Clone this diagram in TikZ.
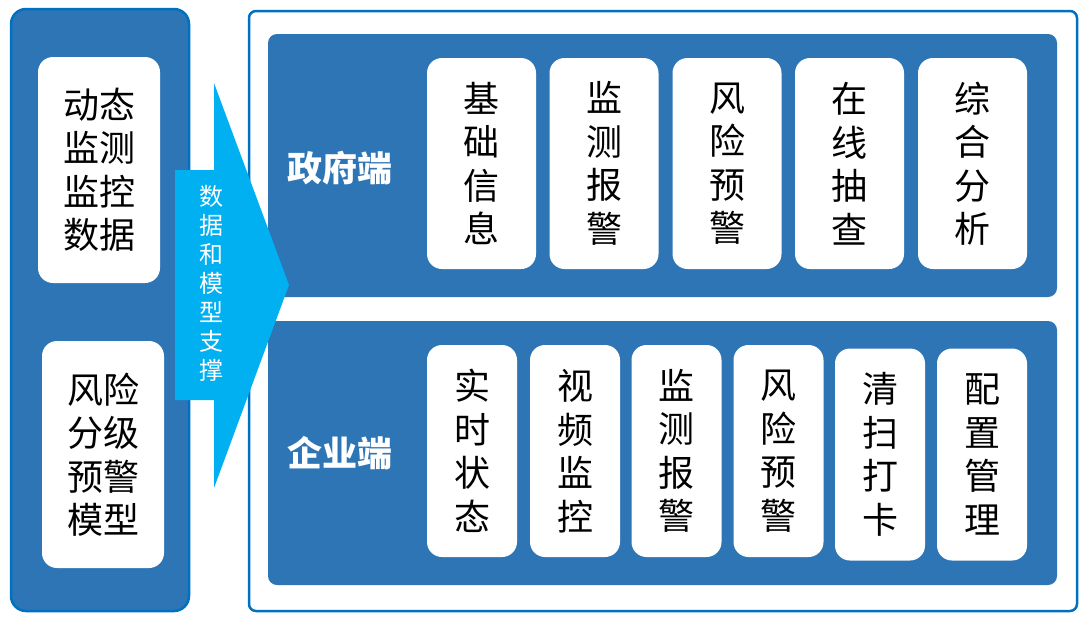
\documentclass[tikz,border=0pt]{standalone}
\usepackage{fontspec}
\newfontfamily\cjk{Noto Sans CJK SC}
\definecolor{vlakblauw}{HTML}{2E75B6}
\definecolor{randblauw}{HTML}{0070C0}
\definecolor{pijlblauw}{HTML}{00B0F0}
\tikzset{
  kaart/.style={fill=white, rounded corners=15pt, inner sep=0pt, align=center, font=\cjk\fontsize{36}{43.5}\selectfont},
  smal/.style={kaart, minimum width=90pt, minimum height=212pt},
  breed/.style={kaart, minimum width=109pt, minimum height=211pt},
  kop/.style={text=white, font=\cjk\bfseries\fontsize{35}{40}\selectfont},
}

\begin{document}
\begin{tikzpicture}[x=1pt,y=-1pt]
        \useasboundingbox (0,0) rectangle (1086,621);
        % links: bronnen
        \draw [randblauw, line width=2.5pt, fill=vlakblauw, rounded corners=15pt] (11,9) rectangle (189,611);
        \node [kaart, minimum width=122pt, minimum height=226pt] (data) at (99,170) {动态\\监测\\监控\\数据};
        \node [kaart, minimum width=122pt, minimum height=227pt] (model) at (103,454.5) {风险\\分级\\预警\\模型};
        % rechts: kader
        \draw [randblauw, line width=2.5pt, fill=white, rounded corners=7pt] (249,11) rectangle (1077,611);
        \fill [vlakblauw, rounded corners=9pt] (268,34) rectangle (1057,297);
        \fill [vlakblauw, rounded corners=9pt] (268,321) rectangle (1057,585);
        %政府端
        \node [kop] (gov) at (340,168) {政府端};
        \node [breed] (g1) at (481.5,163.5) {基\\础\\信\\息};
        \node [breed] (g2) at (604,163.5) {监\\测\\报\\警};
        \node [breed] (g3) at (727,163.5) {风\\险\\预\\警};
        \node [breed] (g4) at (849.5,163.5) {在\\线\\抽\\查};
        \node [breed] (g5) at (972.5,163.5) {综\\合\\分\\析};
        % 企业端
        \node [kop] (ent) at (340,453) {企业端};
        \node [smal] (e1) at (472,451) {实\\时\\状\\态};
        \node [smal] (e2) at (575,451) {视\\频\\监\\控};
        \node [smal] (e3) at (676.5,451) {监\\测\\报\\警};
        \node [smal] (e4) at (778.5,451) {风\\险\\预\\警};
        \node [smal] (e5) at (880,454.5) {清\\扫\\打\\卡};
        \node [smal] (e6) at (982,454.5) {配\\置\\管\\理};
        % pijl
        \fill [pijlblauw] (175,170) -- (214,170) -- (214,83) -- (289,285) -- (214,488) -- (214,400) -- (175,400) -- cycle;
        \node [text=white, align=center, inner sep=0pt, font=\cjk\fontsize{24}{29}\selectfont] (steun) at (211,283) {数\\据\\和\\模\\型\\支\\撑};
    \end{tikzpicture}
\end{document}
